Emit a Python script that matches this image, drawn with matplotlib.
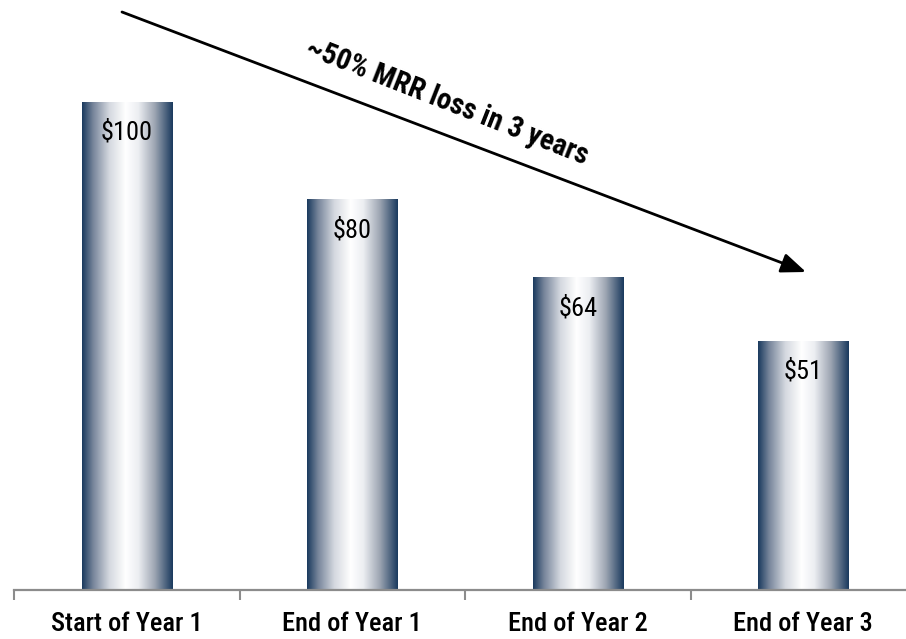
import numpy as np
import matplotlib
matplotlib.use("Agg")
import matplotlib.pyplot as plt
from matplotlib.colors import LinearSegmentedColormap

plt.rcParams["font.family"] = ["Roboto Condensed", "DejaVu Sans"]

categories = ["Start of Year 1", "End of Year 1", "End of Year 2", "End of Year 3"]
mrr = [100, 80, 64, 51]
value_labels = ["$100", "$80", "$64", "$51"]
note = "~50% MRR loss in 3 years"

# navy -> white -> navy horizontal shading for each bar
shade = LinearSegmentedColormap.from_list("navy_glass", [
    (0.00, "#1a3a5e"), (0.12, "#76849a"), (0.30, "#d4d8df"),
    (0.48, "#ffffff"), (0.62, "#eceef2"), (0.80, "#9ea6b3"), (1.00, "#1a3a5e")])
grad = np.linspace(0, 1, 256).reshape(1, -1)

fig = plt.figure(figsize=(9.06, 6.39), dpi=100)
ax = fig.add_axes([14 / 906, (639 - 590) / 639, 902 / 906, 590 / 639])
x = np.arange(len(categories))
w = 0.40
bars = ax.bar(x, mrr, w, color="none", edgecolor="none")
for b in bars:
    x0, y0, bw, bh = b.get_x(), b.get_y(), b.get_width(), b.get_height()
    ax.imshow(grad, cmap=shade, extent=(x0, x0 + bw, y0, y0 + bh),
              aspect="auto", zorder=2, interpolation="bilinear")

for xi, v, t in zip(x, mrr, value_labels):
    ax.annotate(t, (xi, v), xytext=(0, -22), textcoords="offset points",
                ha="center", va="center", fontsize=19, zorder=3)

ax.set_xlim(-0.5, len(categories) - 0.5)
ax.set_ylim(0, 590 / 4.88)

for s in ["top", "right", "left"]:
    ax.spines[s].set_visible(False)
ax.spines["bottom"].set_color("#8c8c8c")
ax.spines["bottom"].set_linewidth(1.6)
ax.set_yticks([])
ax.set_xticks(x)
ax.set_xticklabels(categories, fontsize=19, fontweight="medium")
ax.tick_params(axis="x", length=0, pad=16)
ax.set_xticks(np.arange(-0.5, len(categories), 1.0), minor=True)
ax.tick_params(axis="x", which="minor", length=7, width=1.5, color="#8c8c8c", direction="out")

# trend arrow with annotation
ax.annotate("", xy=(806 / 906, 1 - 272 / 639), xytext=(122 / 906, 1 - 12 / 639),
            xycoords="figure fraction", textcoords="figure fraction",
            arrowprops=dict(arrowstyle="-|>,head_length=0.75,head_width=0.3",
                            mutation_scale=20, color="black", lw=2, shrinkA=0, shrinkB=0))
fig.text(447 / 906, 1 - 102 / 639, note, rotation=-21.5, ha="center", va="center",
         fontsize=21, fontweight="bold", rotation_mode="anchor")

fig.savefig("out.png", dpi=100)
